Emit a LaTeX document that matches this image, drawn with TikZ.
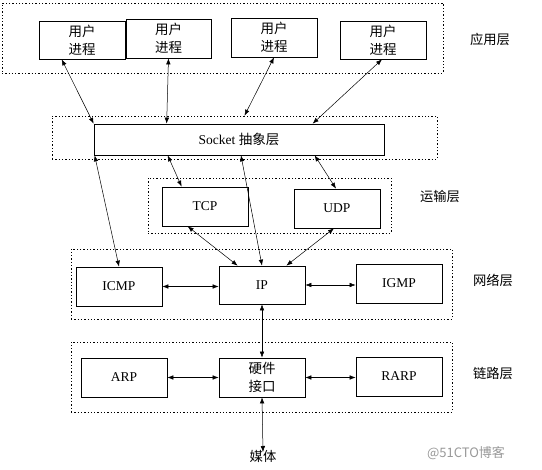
\documentclass[tikz,border=0pt]{standalone}
\usepackage{fontspec}
\setmainfont{Liberation Serif}
\newfontfamily\cjk{Noto Sans CJK SC}
\usetikzlibrary{arrows.meta}
\begin{document}
\begin{tikzpicture}[x=1pt,y=-1pt,
  box/.style={draw,line width=0.7pt,minimum width=86pt,minimum height=39pt,inner sep=0pt,align=center,font=\fontsize{13.5}{18}\selectfont},
  layer/.style={draw,line width=0.6pt,dash pattern=on 1.3pt off 2pt,inner sep=0pt},
  lbl/.style={font=\cjk\fontsize{13.3}{15}\selectfont,inner sep=0pt},
  conn/.style={line width=0.5pt,{Latex[length=6pt,width=4.5pt]}-{Latex[length=6pt,width=4.5pt]}}]
\useasboundingbox[fill=white] (0,0) rectangle (542,470);
% layer frames
\node[layer,minimum width=441pt,minimum height=70pt] (appL) at (222.5,38) {};
\node[layer,minimum width=385pt,minimum height=43pt] (sockL) at (244.5,137.5) {};
\node[layer,minimum width=243pt,minimum height=55pt] (tranL) at (269.5,205.5) {};
\node[layer,minimum width=381pt,minimum height=70pt] (netL) at (261.5,284) {};
\node[layer,minimum width=381pt,minimum height=70pt] (linkL) at (261.5,377) {};
% boxes
\node[box,minimum height=38pt] (b1) at (82,40) {{\cjk 用户}\\{\cjk 进程}};
\node[box,minimum width=85pt] (b2) at (168.5,38.5) {{\cjk 用户}\\{\cjk 进程}};
\node[box] (b3) at (274,37.5) {{\cjk 用户}\\{\cjk 进程}};
\node[box,minimum height=38pt] (b4) at (383,40) {{\cjk 用户}\\{\cjk 进程}};
\node[box,minimum width=290pt,minimum height=31pt] (sock) at (239,139.5) {Socket {\cjk 抽象层}};
\node[box] (tcp) at (205,206.5) {TCP};
\node[box] (udp) at (337,208.5) {UDP};
\node[box] (icmp) at (119,286.5) {ICMP};
\node[box,minimum height=38pt] (ip) at (262,285) {IP};
\node[box] (igmp) at (399,283.5) {IGMP};
\node[box] (arp) at (124,377.5) {ARP};
\node[box] (hw) at (262,377.5) {{\cjk 硬件}\\{\cjk 接口}};
\node[box] (rarp) at (399,376.5) {RARP};
\node[lbl,anchor=north] (media) at (263,450) {媒体};
% layer labels
\node[lbl] (lapp) at (490,39) {应用层};
\node[lbl] (ltran) at (440,196) {运输层};
\node[lbl] (lnet) at (493,280) {网络层};
\node[lbl] (llink) at (493,373) {链路层};
\node[font=\cjk\fontsize{13}{15}\selectfont,text=black!40,inner sep=0pt] (wm) at (466,453) {@51CTO博客};
% connectors
\draw[conn] ([xshift=23pt]b1.south west) -- (sock.north west);
\draw[conn] (b2.south) -- ([xshift=73pt]sock.north west);
\draw[conn] (b3.south) -- (sockL.north);
\draw[conn] ([xshift=-1pt]b4.south) -- ([xshift=219pt]sock.north west);
\draw[conn] ([xshift=1pt]sock.south west) -- (icmp.north);
\draw[conn] ([xshift=74pt]sock.south west) -- ([xshift=20pt]tcp.north west);
\draw[conn] ([xshift=2pt]sock.south) -- (ip.north);
\draw[conn] ([xshift=221pt]sock.south west) -- ([xshift=-1pt]udp.north);
\draw[conn] ([xshift=26pt]tcp.south west) -- ([xshift=19pt]ip.north west);
\draw[conn] ([xshift=-3pt]udp.south) -- ([xshift=-19pt]ip.north east);
\draw[conn] (icmp.east) -- (icmp.east -| ip.west);
\draw[conn] (ip.east) -- (ip.east -| igmp.west);
\draw[conn] (ip.south) -- (hw.north);
\draw[conn] (arp.east) -- (hw.west);
\draw[conn] (hw.east) -- (hw.east -| rarp.west);
\draw[conn] (hw.south) -- ([yshift=-2pt]media.north);
\end{tikzpicture}
\end{document}
